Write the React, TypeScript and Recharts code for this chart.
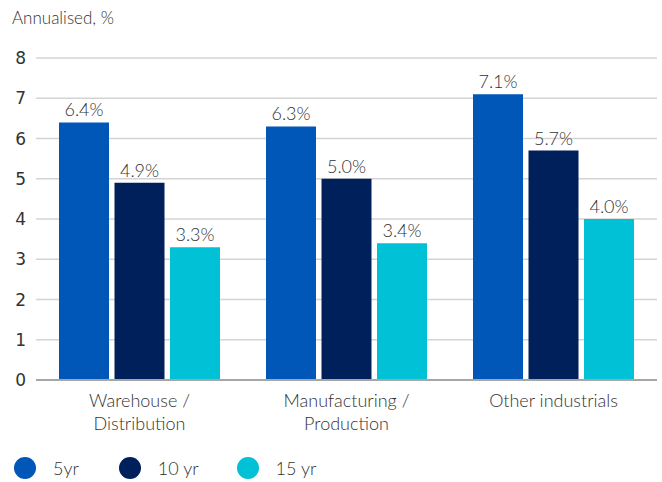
import React from 'react';
import { Bar, BarChart, CartesianGrid, LabelList, XAxis, YAxis } from 'recharts';

const categories = ['Warehouse / Distribution', 'Manufacturing / Production', 'Other industrials'];
const categoryLines = [['Warehouse /', 'Distribution'], ['Manufacturing /', 'Production'], ['Other industrials']];
const fiveYear = [6.4, 6.3, 7.1];
const tenYear = [4.9, 5.0, 5.7];
const fifteenYear = [3.3, 3.4, 4.0];
const yTicks = [0, 1, 2, 3, 4, 5, 6, 7, 8];

const series = [
  { key: 'y5', name: '5yr', color: '#0057b8' },
  { key: 'y10', name: '10 yr', color: '#00205b' },
  { key: 'y15', name: '15 yr', color: '#00c1d5' }
];

const data = categories.map((name, i) => ({
  name,
  y5: fiveYear[i],
  y10: tenYear[i],
  y15: fifteenYear[i]
}));

const textFont = 'Lato, "Noto Sans", sans-serif';

function CategoryTick({ x, y, payload, index }: any) {
  const lines = categoryLines[index] ?? [String(payload.value)];
  return (
    <g transform={`translate(${x},${y})`}>
      {lines.map((line, i) => (
        <text
          key={line}
          x={0}
          y={19 + i * 23}
          textAnchor="middle"
          fill="#333"
          fontSize={18}
          fontWeight={300}
          fontFamily={textFont}
        >
          {line}
        </text>
      ))}
    </g>
  );
}

export default function App() {
  return (
    <div style={{ position: 'absolute', left: 0, top: 0, width: 662, height: 482, background: '#fff', fontFamily: textFont }}>
      <div style={{ position: 'absolute', left: 12, top: 7, fontSize: 17, fontWeight: 300, color: '#333' }}>Annualised, %</div>
      <BarChart
        width={662}
        height={440}
        data={data}
        margin={{ top: 58, right: 5, bottom: 0, left: 0 }}
        barSize={50}
        barGap={5.5}
        barCategoryGap={23}
      >
        <CartesianGrid vertical={false} stroke="#d4d4d4" strokeWidth={1.5} />
        <XAxis
          dataKey="name"
          height={60}
          tickLine={false}
          axisLine={{ stroke: '#a6a6a6', strokeWidth: 2 }}
          tick={<CategoryTick />}
          interval={0}
        />
        <YAxis
          width={36}
          domain={[0, 8]}
          ticks={yTicks}
          tickLine={false}
          axisLine={false}
          tickMargin={4}
          tick={{ fill: '#333', fontSize: 17, fontFamily: '"DejaVu Sans", Verdana, sans-serif' }}
        />
        {series.map((s) => (
          <Bar key={s.key} dataKey={s.key} name={s.name} fill={s.color} isAnimationActive={false}>
            <LabelList
              dataKey={s.key}
              position="top"
              offset={6}
              formatter={(v: any) => `${Number(v).toFixed(1)}%`}
              style={{ fill: '#333', fontSize: 18, fontWeight: 300, fontFamily: textFont }}
            />
          </Bar>
        ))}
      </BarChart>
      <div style={{ position: 'absolute', left: 14, top: 457, display: 'flex', alignItems: 'center' }}>
        {series.map((s, i) => (
          <div key={s.key} style={{ display: 'flex', alignItems: 'center', marginRight: i === 0 ? 40 : 38 }}>
            <span style={{ width: 22, height: 22, borderRadius: 11, background: s.color, display: 'inline-block' }} />
            <span style={{ marginLeft: 17, fontSize: 18, fontWeight: 300, color: '#333' }}>{s.name}</span>
          </div>
        ))}
      </div>
    </div>
  );
}
